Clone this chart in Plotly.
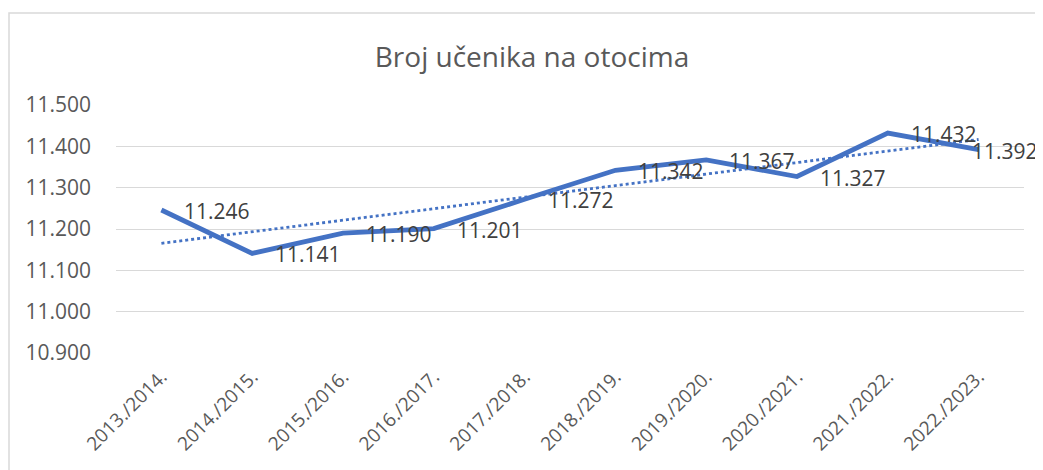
import numpy as np
import plotly.graph_objects as go

categories = ["2013./2014.", "2014./2015.", "2015./2016.", "2016./2017.", "2017./2018.",
              "2018./2019.", "2019./2020.", "2020./2021.", "2021./2022.", "2022./2023."]
students = [11246, 11141, 11190, 11201, 11272, 11342, 11367, 11327, 11432, 11392]
y_ticks = [10900, 11000, 11100, 11200, 11300, 11400, 11500]

# linear trendline (least squares, as Excel does)
xi = np.arange(1, len(students) + 1)
slope, intercept = np.polyfit(xi, students, 1)
trend = slope * xi + intercept

BLUE = "#4472C4"
FONT = "Open Sans"

# page body has an 8px margin in the browser, so the figure is 8px smaller
W, H = 1043 - 8, 470 - 8
L, R, T, B = 116 - 8, 19, 105 - 8, 117
PW, PH = W - L - R, H - T - B

fig = go.Figure()
fig.add_trace(go.Scatter(
    x=categories, y=trend, mode="lines",
    line=dict(color=BLUE, width=2.8, dash="dot"),
    hoverinfo="skip", showlegend=False,
))
fig.add_trace(go.Scatter(
    x=categories, y=students, mode="lines",
    line=dict(color=BLUE, width=4.8),
    showlegend=False,
))

annotations = []
for i, (c, v) in enumerate(zip(categories, students)):
    label = f"{v:,}".replace(",", ".")
    font = dict(family=FONT, size=21, color="#404040")
    if i == len(categories) - 1:
        # Excel pulls the last label back inside the chart edge
        annotations.append(dict(
            x=(W - 3 - L) / PW, xref="paper", y=v, yref="y", text=label,
            showarrow=False, xanchor="right", yanchor="middle", yshift=-1, font=font,
        ))
    else:
        annotations.append(dict(
            x=c, y=v, xref="x", yref="y", text=label,
            showarrow=False, xanchor="left", yanchor="middle",
            xshift=21, yshift=-1, font=font,
        ))

fig.update_layout(
    width=W, height=H,
    margin=dict(l=L, r=R, t=T, b=B),
    paper_bgcolor="white", plot_bgcolor="white",
    separators=",.",
    title=dict(text="Broj učenika na otocima", xref="container",
               x=(532 - 8) / W, xanchor="center",
               y=1 - (57 - 8) / H, yanchor="middle",
               font=dict(family=FONT, size=28, color="#595959")),
    xaxis=dict(type="category", range=[-0.5, len(categories) - 0.5], tickangle=-45,
               showgrid=False, showline=False, ticklabelstandoff=8,
               ticks="", tickfont=dict(family=FONT, size=19, color="#595959")),
    yaxis=dict(range=[10900, 11500], tickvals=y_ticks, tickformat=",.0f",
               showgrid=True, gridcolor="#D9D9D9", gridwidth=1.3, zeroline=False,
               showline=False, ticks="", ticklabelstandoff=24,
               tickfont=dict(family=FONT, size=21, color="#595959")),
    annotations=annotations,
    shapes=[dict(type="rect", xref="paper", yref="paper",
                 x0=(1 - L) / PW, x1=(W + 20 - L) / PW,
                 y0=-(B + 30) / PH, y1=(PH + T - 5) / PH,
                 line=dict(color="#D9D9D9", width=1.5), fillcolor="rgba(0,0,0,0)",
                 layer="below")],
)

fig.write_html("out.html")
